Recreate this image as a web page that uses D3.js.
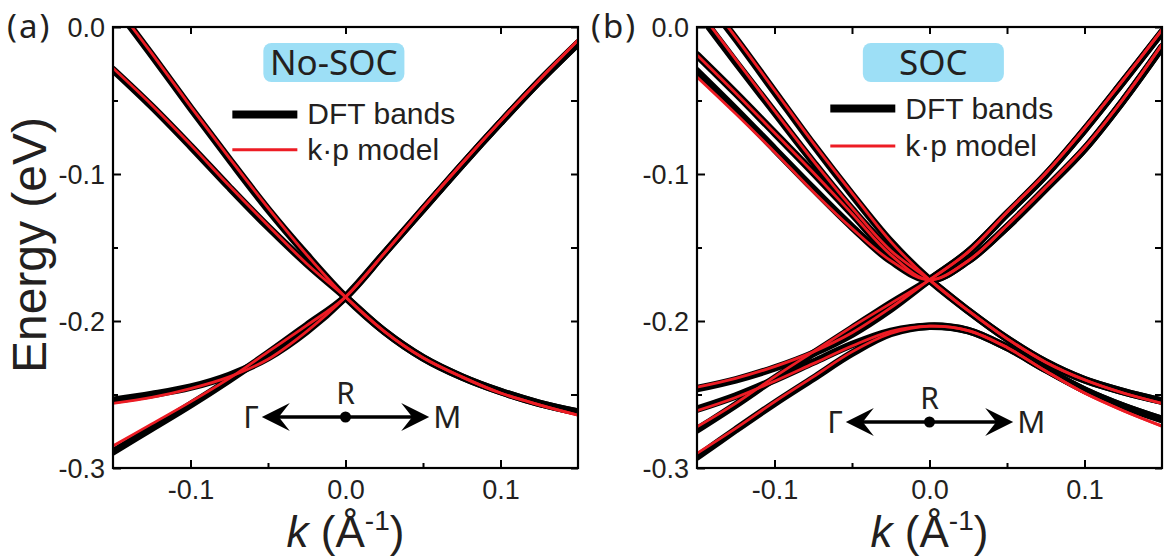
<!DOCTYPE html>
<html><head><meta charset="utf-8">
<script src="https://cdn.jsdelivr.net/npm/d3@7"></script>
<style>
html,body{margin:0;padding:0;background:#fff;}
svg{display:block;}
</style></head>
<body>
<svg id="chart" width="1167" height="560"></svg>
<script>
// ---------- data ----------
const kGrid = [-0.15, -0.125, -0.1, -0.075, -0.05, -0.025, 0, 0.025, 0.05, 0.075, 0.1, 0.125, 0.15];

// panel (a) No-SOC : DFT bands (energies in eV on kGrid)
const aDft = [
  [0.016, -0.019, -0.055, -0.090, -0.124, -0.155, -0.1837, -0.207, -0.225, -0.238, -0.248, -0.256, -0.262],
  [-0.029, -0.054, -0.081, -0.109, -0.136, -0.161, -0.1837, -0.207, -0.225, -0.238, -0.248, -0.256, -0.262],
  [-0.254, -0.250, -0.245, -0.237, -0.225, -0.207, -0.1837, -0.154, -0.124, -0.094, -0.065, -0.037, -0.011],
  [-0.289, -0.273, -0.257, -0.240, -0.222, -0.203, -0.1837, -0.154, -0.124, -0.094, -0.065, -0.037, -0.011]
];
// panel (a) No-SOC : k.p model
const aKp = [
  [0.017, -0.018, -0.054, -0.089, -0.123, -0.155, -0.1837, -0.207, -0.225, -0.238, -0.249, -0.257, -0.264],
  [-0.028, -0.053, -0.080, -0.108, -0.135, -0.161, -0.1837, -0.207, -0.225, -0.238, -0.249, -0.257, -0.264],
  [-0.256, -0.252, -0.246, -0.238, -0.226, -0.207, -0.1837, -0.154, -0.123, -0.093, -0.064, -0.036, -0.009],
  [-0.285, -0.270, -0.255, -0.239, -0.221, -0.203, -0.1837, -0.154, -0.123, -0.093, -0.064, -0.036, -0.009]
];

// panel (b) SOC : DFT bands
const bDft = [
  [0.011, -0.024, -0.058, -0.092, -0.124, -0.152, -0.172, -0.193, -0.212, -0.228, -0.240, -0.248, -0.2545],
  [0.026, -0.008, -0.044, -0.080, -0.114, -0.146, -0.172, -0.193, -0.212, -0.228, -0.240, -0.248, -0.2545],
  [-0.019, -0.045, -0.072, -0.099, -0.127, -0.155, -0.172, -0.159, -0.136, -0.110, -0.083, -0.050, -0.0136],
  [-0.030, -0.056, -0.083, -0.110, -0.136, -0.159, -0.172, -0.159, -0.136, -0.110, -0.083, -0.050, -0.0136],
  [-0.246, -0.240, -0.232, -0.222, -0.209, -0.192, -0.172, -0.153, -0.127, -0.1006, -0.070, -0.037, -0.0034],
  [-0.274, -0.257, -0.239, -0.222, -0.205, -0.188, -0.172, -0.153, -0.127, -0.1006, -0.070, -0.037, -0.0034],
  [-0.260, -0.251, -0.240, -0.228, -0.216, -0.207, -0.2035, -0.2065, -0.218, -0.233, -0.247, -0.258, -0.267],
  [-0.2925, -0.274, -0.256, -0.239, -0.222, -0.2085, -0.2035, -0.2065, -0.218, -0.233, -0.247, -0.258, -0.267]
];
// panel (b) SOC : k.p model
const bKp = [
  [0.013, -0.022, -0.057, -0.091, -0.123, -0.152, -0.172, -0.193, -0.212, -0.228, -0.240, -0.249, -0.256],
  [0.027, -0.007, -0.043, -0.079, -0.113, -0.146, -0.172, -0.193, -0.212, -0.228, -0.240, -0.249, -0.256],
  [-0.019, -0.045, -0.072, -0.099, -0.127, -0.155, -0.172, -0.159, -0.135, -0.109, -0.082, -0.049, -0.012],
  [-0.034, -0.059, -0.085, -0.112, -0.137, -0.159, -0.172, -0.159, -0.135, -0.109, -0.082, -0.049, -0.012],
  [-0.245, -0.239, -0.231, -0.221, -0.208, -0.191, -0.172, -0.153, -0.126, -0.0995, -0.069, -0.036, -0.002],
  [-0.272, -0.256, -0.238, -0.221, -0.204, -0.188, -0.172, -0.153, -0.126, -0.0995, -0.069, -0.036, -0.002],
  [-0.261, -0.252, -0.241, -0.229, -0.217, -0.207, -0.2035, -0.2065, -0.218, -0.234, -0.249, -0.261, -0.2715],
  [-0.290, -0.273, -0.255, -0.238, -0.221, -0.2085, -0.2035, -0.2065, -0.218, -0.234, -0.249, -0.261, -0.2715]
];

const xTicks = [-0.1, 0.0, 0.1];
const xMinor = [-0.05, 0.05];
const yTicks = [0.0, -0.1, -0.2, -0.3];
const yMinor = [-0.05, -0.15, -0.25];
const panelTags = ["(a)", "(b)"];
const boxLabels = ["No-SOC", "SOC"];
const legendLabels = ["DFT bands", "k·p model"];
const pathLabels = ["Γ", "R", "M"];
const yTitle = "Energy (eV)";

// ---------- drawing ----------
const svg = d3.select("#chart");
const RED = "#ed1c24", TXT = "#231f20";
const sansA = "Liberation Sans, Arial, sans-serif";
const sansM = "Noto Sans, Open Sans, sans-serif";

const panels = [
  {left:113, right:578, tag:panelTags[0], box:boxLabels[0], dft:aDft, kp:aKp,
   boxK:[-0.053, 0.038], legK:-0.073, legE:[-0.0595, -0.0835], arrowE:-0.2653, topMinor:false},
  {left:697, right:1162, tag:panelTags[1], box:boxLabels[1], dft:bDft, kp:bKp,
   boxK:[-0.043, 0.048], legK:-0.064, legE:[-0.0555, -0.081], arrowE:-0.2687, topMinor:true}
];
const plotTop = 27, plotBottom = 468;

panels.forEach((p, pi) => {
  const x = d3.scaleLinear().domain([-0.15, 0.15]).range([p.left, p.right]);
  const y = d3.scaleLinear().domain([-0.3, 0.0]).range([plotBottom, plotTop]);
  const g = svg.append("g");
  const clipId = "clip" + pi;
  svg.append("clipPath").attr("id", clipId).append("rect")
    .attr("x", p.left).attr("y", plotTop).attr("width", p.right - p.left).attr("height", plotBottom - plotTop);

  const plot = g.append("g").attr("clip-path", `url(#${clipId})`);
  const line = d3.line().x((d, i) => x(kGrid[i])).y(d => y(d)).curve(d3.curveCatmullRom.alpha(0.5));

  p.dft.forEach(b => plot.append("path").attr("d", line(b))
    .attr("fill", "none").attr("stroke", "#000").attr("stroke-width", 7.5).attr("stroke-linecap", "round"));
  p.kp.forEach(b => plot.append("path").attr("d", line(b))
    .attr("fill", "none").attr("stroke", RED).attr("stroke-width", 2.8));

  // axes
  const fmt = d => d.toFixed(1);
  g.append("g").attr("transform", `translate(0,${plotBottom})`)
    .call(d3.axisBottom(x).tickValues(xTicks).tickSize(-8).tickPadding(12).tickFormat(fmt));
  g.append("g").attr("transform", `translate(0,${plotBottom})`)
    .call(d3.axisBottom(x).tickValues(xMinor).tickSize(-5).tickFormat(""));
  g.append("g").attr("transform", `translate(0,${plotTop})`)
    .call(d3.axisTop(x).tickValues(p.topMinor ? xTicks.concat(xMinor) : xTicks).tickSize(-7).tickFormat(""));
  const axL = g.append("g").attr("transform", `translate(${p.left},0)`)
    .call(d3.axisLeft(y).tickValues(yTicks).tickSize(-8).tickPadding(8).tickFormat(fmt));
  g.append("g").attr("transform", `translate(${p.left},0)`)
    .call(d3.axisLeft(y).tickValues(yMinor).tickSize(-5).tickFormat(""));
  g.append("g").attr("transform", `translate(${p.right},0)`)
    .call(d3.axisRight(y).tickValues(yTicks.concat(yMinor)).tickSize(-7).tickFormat(""));
  g.selectAll(".domain").remove();
  g.selectAll(".tick line").attr("stroke", "#000").attr("stroke-width", 2);
  g.selectAll(".tick text").attr("font-family", sansA).attr("font-size", 27).attr("fill", TXT);
  axL.selectAll(".tick text").attr("dy", "0.36em");

  // frame
  g.append("rect").attr("x", p.left).attr("y", plotTop).attr("width", p.right - p.left).attr("height", plotBottom - plotTop)
    .attr("fill", "none").attr("stroke", "#000").attr("stroke-width", 2.2);

  // panel tag
  g.append("text").attr("x", p.left - 106).attr("y", 38).text(p.tag).attr("letter-spacing", 2)
    .attr("font-family", sansM).attr("font-size", 33).attr("fill", TXT);

  // label box
  const bx0 = x(p.boxK[0]), bx1 = x(p.boxK[1]);
  g.append("rect").attr("x", bx0).attr("y", 43).attr("width", bx1 - bx0).attr("height", 39).attr("rx", 8)
    .attr("fill", "#9ddff6");
  g.append("text").attr("x", (bx0 + bx1) / 2).attr("y", 75).attr("text-anchor", "middle").text(p.box)
    .attr("font-family", sansM).attr("font-size", 35).attr("fill", TXT);

  // legend
  const lx0 = x(p.legK), lx1 = lx0 + 65;
  g.append("line").attr("x1", lx0).attr("x2", lx1).attr("y1", y(p.legE[0])).attr("y2", y(p.legE[0]))
    .attr("stroke", "#000").attr("stroke-width", 8);
  g.append("line").attr("x1", lx0).attr("x2", lx1).attr("y1", y(p.legE[1])).attr("y2", y(p.legE[1]))
    .attr("stroke", RED).attr("stroke-width", 3);
  legendLabels.forEach((t, i) => g.append("text").attr("x", lx1 + 10).attr("y", y(p.legE[i]) + 10).text(t)
    .attr("font-family", sansA).attr("font-size", 30).attr("fill", TXT));

  // path annotation
  const ay = y(p.arrowE), ax0 = x(-0.054), ax1 = x(0.054), axc = x(0);
  g.append("line").attr("x1", ax0 + 10).attr("x2", ax1 - 10).attr("y1", ay).attr("y2", ay)
    .attr("stroke", "#000").attr("stroke-width", 3.5);
  const head = (tipX, dir) => {
    const L = 28, Wd = 14, notch = 11;
    return `M${tipX},${ay} L${tipX + dir * L},${ay - Wd} L${tipX + dir * (L - notch)},${ay} L${tipX + dir * L},${ay + Wd} Z`;
  };
  g.append("path").attr("d", head(ax0, 1)).attr("fill", "#000");
  g.append("path").attr("d", head(ax1, -1)).attr("fill", "#000");
  g.append("circle").attr("cx", axc).attr("cy", ay).attr("r", 5.5).attr("fill", "#000");
  g.append("text").attr("x", ax0 - 3).attr("y", ay + 11).attr("text-anchor", "end").text(pathLabels[0])
    .attr("font-family", sansM).attr("font-size", 31).attr("fill", TXT);
  g.append("text").attr("x", axc).attr("y", ay - 13).attr("text-anchor", "middle").text(pathLabels[1])
    .attr("font-family", sansM).attr("font-size", 30).attr("fill", TXT);
  g.append("text").attr("x", ax1 + 4).attr("y", ay + 11).text(pathLabels[2])
    .attr("font-family", sansM).attr("font-size", 31).attr("fill", TXT);

  // x title
  const xt = g.append("text").attr("x", x(0)).attr("y", 547).attr("text-anchor", "middle")
    .attr("font-family", sansA).attr("font-size", 44).attr("fill", TXT);
  xt.append("tspan").attr("font-style", "italic").text("k");
  xt.append("tspan").text(" (Å");
  xt.append("tspan").attr("font-size", 28).attr("dy", -17).text("-1");
  xt.append("tspan").attr("dy", 17).text(")");
});

// y title
svg.append("text").attr("transform", "translate(46,245) rotate(-90)").attr("text-anchor", "middle")
  .attr("font-family", sansA).attr("font-size", 48).attr("fill", TXT).text(yTitle);
</script>
</body></html>
